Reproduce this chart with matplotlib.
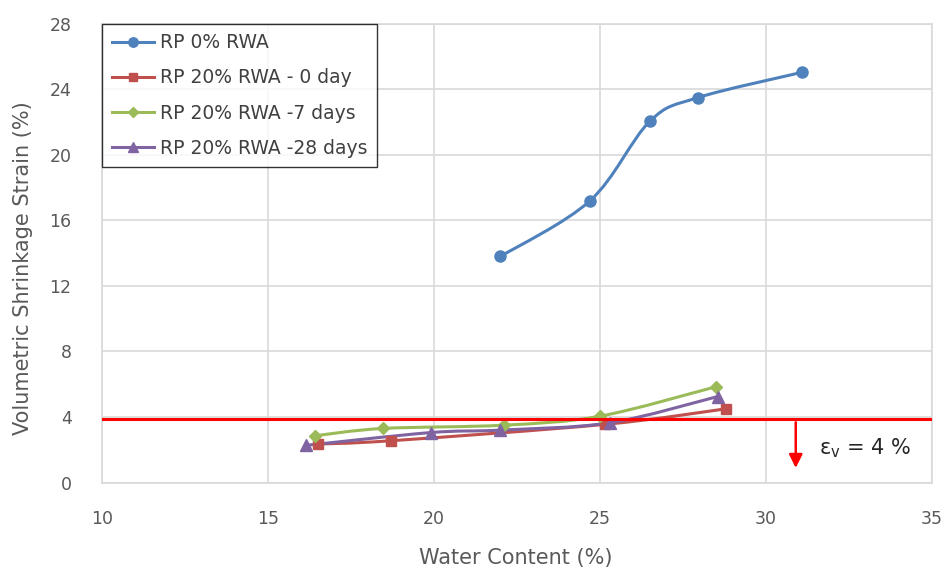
import numpy as np
import matplotlib
matplotlib.use("Agg")
import matplotlib.pyplot as plt
from matplotlib.path import Path
from matplotlib.patches import PathPatch
from matplotlib.lines import Line2D

# water content (%) vs volumetric shrinkage strain (%)
wc_0rwa = [22.0, 24.7, 26.5, 27.95, 31.1]
vs_0rwa = [13.8, 17.2, 22.05, 23.5, 25.05]

wc_20rwa_0d = [16.5, 18.7, 25.15, 28.8]
vs_20rwa_0d = [2.35, 2.55, 3.55, 4.5]

wc_20rwa_7d = [16.4, 18.45, 22.1, 25.0, 28.5]
vs_20rwa_7d = [2.85, 3.3, 3.5, 4.05, 5.85]

wc_20rwa_28d = [16.15, 19.9, 22.0, 25.3, 28.55]
vs_20rwa_28d = [2.27, 3.05, 3.2, 3.65, 5.25]

series_labels = ["RP 0% RWA", "RP 20% RWA - 0 day", "RP 20% RWA -7 days", "RP 20% RWA -28 days"]
limit_strain = 3.85
limit_label = r"$\mathrm{\varepsilon_v}$ = 4 %"

x_ticks = [10, 15, 20, 25, 30, 35]
y_ticks = [0, 4, 8, 12, 16, 20, 24, 28]

colors = ["#4F81BD", "#C0504D", "#9BBB59", "#8064A2"]
markers = ["o", "s", "D", "^"]
msizes = [8, 7.5, 6, 8.5]

plt.rcParams['font.family'] = ['DejaVu Sans']
fig = plt.figure(figsize=(9.46, 5.69), dpi=100)
ax = fig.add_axes([0.108, 0.152, 0.877, 0.806])


def smooth_path(xs, ys):
    # cubic bezier through the points, excel-style smoothing
    pts = np.column_stack([xs, ys]).astype(float)
    n = len(pts)
    verts = [pts[0]]
    codes = [Path.MOVETO]
    for i in range(n - 1):
        p0 = pts[i - 1] if i > 0 else pts[i]
        p1 = pts[i]
        p2 = pts[i + 1]
        p3 = pts[i + 2] if i + 2 < n else pts[i + 1]
        c1 = p1 + (p2 - p0) / 6.0
        c2 = p2 - (p3 - p1) / 6.0
        verts += [c1, c2, p2]
        codes += [Path.CURVE4] * 3
    return Path(verts, codes)


all_data = [(wc_0rwa, vs_0rwa), (wc_20rwa_0d, vs_20rwa_0d),
            (wc_20rwa_7d, vs_20rwa_7d), (wc_20rwa_28d, vs_20rwa_28d)]

handles = []
for (xs, ys), c, m, ms, lab in zip(all_data, colors, markers, msizes, series_labels):
    ax.add_patch(PathPatch(smooth_path(xs, ys), facecolor="none", edgecolor=c,
                           lw=2.2, zorder=3, capstyle="round"))
    ax.plot(xs, ys, ls="none", marker=m, ms=ms, color=c, zorder=4)
    handles.append(Line2D([], [], color=c, lw=2.2, marker=m, ms=ms * 0.85, label=lab))

# 4 % limit line and arrow
ax.axhline(limit_strain, color="red", lw=2.2, zorder=5)
ax.annotate("", xy=(30.9, 0.72), xytext=(30.9, limit_strain),
            arrowprops=dict(arrowstyle="-|>", color="red", lw=1.8, mutation_scale=20),
            zorder=5)
ax.text(33.0, 2.1, limit_label, ha="center", va="center", fontsize=15, color="#262626")

ax.set_xlim(10, 35)
ax.set_ylim(0, 28)
ax.set_xticks(x_ticks)
ax.set_yticks(y_ticks)
ax.grid(True, color="#D9D9D9", lw=1.2)
ax.set_axisbelow(True)
for side, sp in ax.spines.items():
    sp.set_color("#D9D9D9")
    sp.set_linewidth(1.2)
ax.tick_params(length=0, labelsize=12.5, labelcolor="#595959")
ax.tick_params(axis="x", pad=20)
ax.tick_params(axis="y", pad=22)

ax.set_xlabel("Water Content (%)", fontsize=15, color="#595959")
ax.set_ylabel("Volumetric Shrinkage Strain (%)", fontsize=15, color="#595959")
ax.xaxis.set_label_coords(0.499, -0.165)
ax.xaxis.label.set_va("center")
ax.yaxis.set_label_coords(-0.095, 0.468)
ax.yaxis.label.set_va("center")

leg = ax.legend(handles=handles, loc="upper left", bbox_to_anchor=(0.0, 1.0),
                fontsize=13.5, frameon=True, fancybox=False, borderaxespad=0,
                handlelength=2.24, handletextpad=0.37, labelspacing=0.86,
                borderpad=0.5, labelcolor="#404040")
leg.get_frame().set_edgecolor("black")
leg.get_frame().set_linewidth(1.0)
leg.set_zorder(6)

fig.savefig("out.png", dpi=100)
